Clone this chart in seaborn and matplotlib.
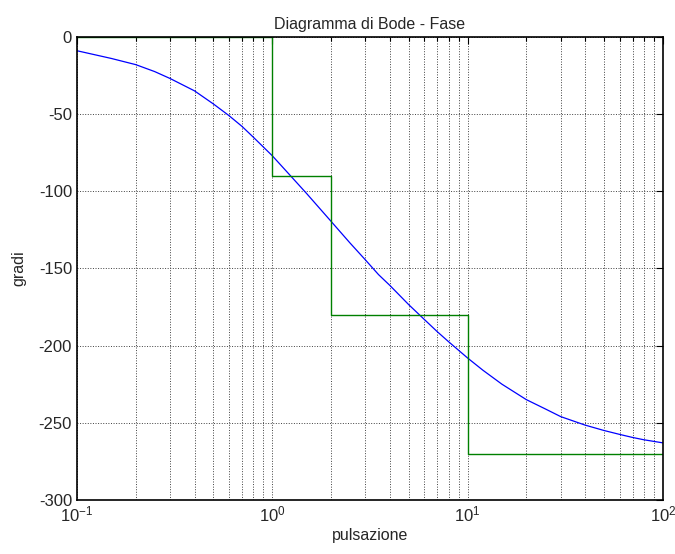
import numpy as np
import pandas as pd
import matplotlib
matplotlib.use("Agg")
import matplotlib.pyplot as plt
import seaborn as sns
from matplotlib.ticker import LogLocator, NullFormatter

# phase curve
omega = [0.1, 0.15, 0.2, 0.25, 0.3, 0.4, 0.5, 0.6, 0.7, 0.8, 1.0, 1.2, 1.5,
         2.0, 2.5, 3.0, 3.5, 4.0, 5.0, 6.0, 7.0, 8.0, 10.0, 12.0, 15.0, 20.0,
         25.0, 30.0, 40.0, 50.0, 60.0, 70.0, 80.0, 100.0]
phase = [-9, -14, -18, -22.5, -27, -35, -43.5, -51, -58, -65, -77, -88, -101.5,
         -119.5, -133.5, -144.5, -154, -161, -173.5, -183, -191, -197.5, -208,
         -216, -225, -235, -241, -246, -251.5, -255, -257.5, -259.5, -261, -263]

# asymptotic (step) approximation
step_omega = [0.1, 1.0, 2.0, 10.0, 100.0]
step_phase = [0, -90, -180, -270, -270]

sns.set_style("white")
plt.rcParams["font.family"] = ["Liberation Sans", "DejaVu Sans"]
plt.rcParams["axes.unicode_minus"] = False

curve = pd.DataFrame({"omega": omega, "phase": phase})
steps = pd.DataFrame({"omega": step_omega, "phase": step_phase})

fig = plt.figure(figsize=(6.75, 5.54), dpi=100)
ax = fig.add_axes([0.114, 0.0975, 0.868, 0.836])

ax.set_xscale("log")
sns.lineplot(data=curve, x="omega", y="phase", ax=ax, color="#0000ff",
             linewidth=0.9, estimator=None, sort=False)
sns.lineplot(data=steps, x="omega", y="phase", ax=ax, color="#008000",
             linewidth=1.0, estimator=None, sort=False, drawstyle="steps-post")

ax.set_xlim(0.1, 100)
ax.set_ylim(-300, 0)
ax.set_yticks(np.arange(-300, 1, 50))
ax.xaxis.set_major_locator(LogLocator(base=10, numticks=10))
ax.xaxis.set_minor_locator(LogLocator(base=10, subs=np.arange(2, 10), numticks=10))
ax.xaxis.set_minor_formatter(NullFormatter())

ax.grid(True, which="major", axis="both", color="0.25", linestyle=":", linewidth=0.7)
ax.grid(True, which="minor", axis="x", color="0.25", linestyle=":", linewidth=0.7)

ax.tick_params(which="both", direction="in", top=True, right=True,
               labelsize=12, color="black")
ax.tick_params(which="major", length=5, width=0.8)
ax.tick_params(which="minor", length=3, width=0.8)
for s in ax.spines.values():
    s.set_linewidth(1.2)
    s.set_color("black")

ax.set_title("Diagramma di Bode - Fase", fontsize=11.5, pad=6)
ax.set_xlabel("pulsazione", fontsize=11.5, labelpad=2)
ax.set_ylabel("gradi", fontsize=11.5, labelpad=9)

fig.savefig("out.png", dpi=100)
